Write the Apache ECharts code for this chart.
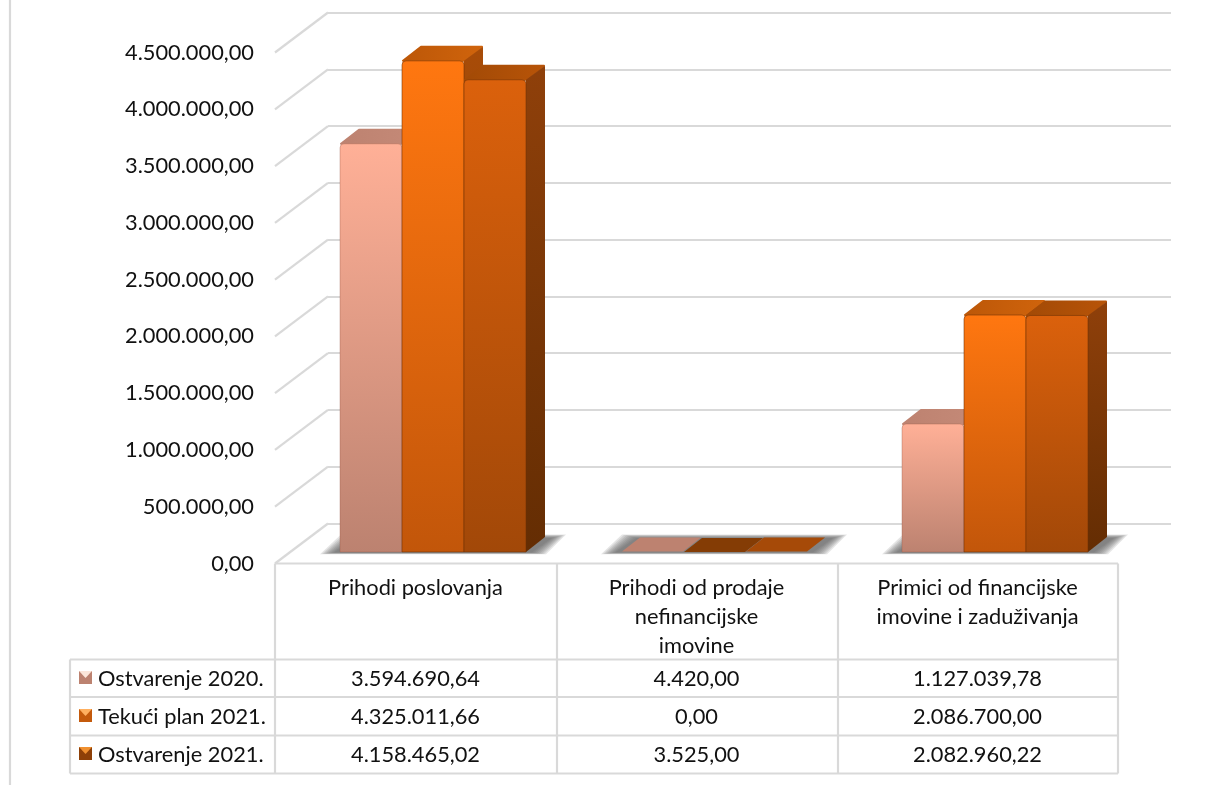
<!DOCTYPE html>
<html><head><meta charset="utf-8">
<style>html,body{margin:0;padding:0;background:#fff}#c{width:1209px;height:785px}</style>
<script src="https://cdn.jsdelivr.net/npm/echarts@6/dist/echarts.min.js"></script>
</head><body><div id="c"></div>
<script>
const categories = ['Prihodi poslovanja', 'Prihodi od prodaje\nnefinancijske\nimovine', 'Primici od financijske\nimovine i zaduživanja'];
const seriesNames = ['Ostvarenje 2020.', 'Tekući plan 2021.', 'Ostvarenje 2021.'];
const ostvarenje2020 = [3594690.64, 4420.00, 1127039.78];
const tekuciPlan2021 = [4325011.66, 0.00, 2086700.00];
const ostvarenje2021 = [4158465.02, 3525.00, 2082960.22];
const tickValues = [0, 500000, 1000000, 1500000, 2000000, 2500000, 3000000, 3500000, 4000000, 4500000];

const FONT = 'Lato';
const FS = 21.8;
const GRID = '#D9D9D9';
const TXT = '#111111';
const fmt = v => { const [a, b] = v.toFixed(2).split('.'); return a.replace(/\B(?=(\d{3})+(?!\d))/g, '.') + ',' + b; };
const lg = (a, b) => ({ type: 'linear', x: 0, y: 0, x2: 0, y2: 1, colorStops: [{ offset: 0, color: a }, { offset: 1, color: b }] });
const lgH = (a, b) => ({ type: 'linear', x: 0, y: 0, x2: 1, y2: 0, colorStops: [{ offset: 0, color: a }, { offset: 1, color: b }] });

const looks = [
  { front: ['#FFB097', '#BC8270'], side: ['#BD8270', '#8a5a4a'], top: ['#BD8270', '#C58A78'], flat: '#BD8270', edge: 'rgba(150,90,70,0.35)', key: ['#FBE6DA', '#BC8270'] },
  { front: ['#FF7710', '#C2560A'], side: ['#A84C08', '#843C05'], top: ['#BC5708', '#D0640C'], flat: '#843C05', edge: 'rgba(110,50,5,0.55)', key: ['#FFB060', '#C45A0C'] },
  { front: ['#DB610C', '#A24808'], side: ['#8F400A', '#642D03'], top: ['#A24A06', '#B85408'], flat: '#A64A08', edge: 'rgba(110,50,5,0.55)', key: ['#F09030', '#8E4008'] }
];
const BAR_RATIO = 62 / 281, SHIFT_X = 17.5, SHIFT_Y = -11.5, DX = 19, DY = -15;

function barRender(idx) {
  return function (params, api) {
    const c = api.value(0), v = api.value(1);
    const p0 = api.coord([c, 0]), p1 = api.coord([c, v]);
    const w = api.size([1, 0])[0] * BAR_RATIO;
    const xL = p0[0] + SHIFT_X + (idx - 1.5) * w, xR = xL + w;
    const yB = p0[1] + SHIFT_Y, yT = p1[1] + SHIFT_Y;
    const L = looks[idx], kids = [];
    const flat = yB - yT < 2;
    const topFill = flat ? L.flat : lgH(L.top[0], L.top[1]);
    kids.push({ type: 'polygon', shape: { points: [[xL + 1, yT], [xL + DX, yT + DY + 1], [xR + DX - 1, yT + DY + 1], [xR, yT]] },
      style: flat ? { fill: topFill } : { fill: topFill, stroke: topFill, lineWidth: 2, lineJoin: 'round' } });
    if (!flat) {
      kids.push({ type: 'polygon', shape: { points: [[xR, yT], [xR + DX, yT + DY + 1], [xR + DX, yB + DY], [xR, yB]] },
        style: { fill: lg(L.side[0], L.side[1]) } });
      kids.push({ type: 'rect', shape: { x: xL, y: yT, width: w, height: yB - yT, r: [4, 4, 0, 0] },
        style: { fill: lg(L.front[0], L.front[1]), stroke: L.edge, lineWidth: 1 } });
    }
    return { type: 'group', children: kids };
  };
}

const shadowRender = (params, api) => {
  const p = api.coord([api.value(0), 0]);
  const w = api.size([1, 0])[0] * BAR_RATIO;
  const xL = p[0] + SHIFT_X - 1.5 * w, xR = xL + 3 * w, yB = p[1] + SHIFT_Y;
  const kids = [];
  for (let e = 7; e >= 0; e--) {
    kids.push({ type: 'polygon', shape: { points: [
      [xL - 6 - 2 * e, yB + 0.5 + e * 0.25], [xL + 15 - 2 * e, yB - 14 - e * 0.5],
      [xR + 26 + 2 * e, yB - 14 - e * 0.5], [xR + 6 + 2 * e, yB + 0.5 + e * 0.25]] },
      style: { fill: 'rgba(95,95,95,0.16)' } });
  }
  return { type: 'group', children: kids };
};

const diagRender = (params, api) => {
  const p = api.coord([0, api.value(0)]);
  const x0 = api.coord([0, 0])[0] - api.size([1, 0])[0] / 2;
  return { type: 'line', shape: { x1: x0, y1: p[1], x2: x0 + 53, y2: p[1] - 40 }, style: { stroke: GRID, lineWidth: 2.2 } };
};

const rowY = [679, 717, 755];
const allRows = [ostvarenje2020, tekuciPlan2021, ostvarenje2021];
const tableData = [];
allRows.forEach((r, ri) => r.forEach((v, ci) => tableData.push([ci, v, ri])));
const tableRender = (params, api) => {
  const x = api.coord([api.value(0), 0])[0];
  return { type: 'text', style: { x, y: rowY[api.value(2)], text: fmt(api.value(1)), font: FS + 'px ' + FONT, fill: TXT, align: 'center', verticalAlign: 'middle' } };
};

const lines = [
  [[275, 563.5], [1118, 563.5]], [[70, 659.5], [1118, 659.5]], [[70, 697], [1118, 697]], [[70, 735.5], [1118, 735.5]], [[70, 773.5], [1118, 773.5]],
  [[275, 563.5], [275, 773.5]], [[557, 563.5], [557, 773.5]], [[838, 563.5], [838, 773.5]], [[1118, 563.5], [1118, 773.5]], [[70, 659.5], [70, 773.5]],
  [[10, 0], [10, 785]]
];
const graphics = lines.map(l => ({ type: 'line', silent: true, z: 1, shape: { x1: l[0][0], y1: l[0][1], x2: l[1][0], y2: l[1][1] }, style: { stroke: GRID, lineWidth: 2.2 } }));
seriesNames.forEach((n, i) => {
  const y = rowY[i] - 1;
  graphics.push({ type: 'rect', shape: { x: 79, y: y - 7, width: 13, height: 13 }, style: { fill: looks[i].key[1] } });
  graphics.push({ type: 'polygon', shape: { points: [[79, y - 7], [92, y - 7], [85.5, y]] }, style: { fill: looks[i].key[0] } });
  graphics.push({ type: 'text', style: { x: 98, y: rowY[i], text: n, font: FS + 'px ' + FONT, fill: TXT, verticalAlign: 'middle' } });
});

const chart = echarts.init(document.getElementById('c'));
chart.setOption({
  animation: false,
  backgroundColor: '#fff',
  grid: [
    { left: 275, right: 91, top: 52.5, bottom: 221.5 },
    { left: 328, right: 38, top: 12.5, bottom: 261.5 }
  ],
  xAxis: [
    { type: 'category', gridIndex: 0, data: categories, axisLine: { show: false }, axisTick: { show: false },
      axisLabel: { interval: 0, margin: 10, color: TXT, fontFamily: FONT, fontSize: FS, lineHeight: 29, verticalAlign: 'top' } },
    { type: 'category', gridIndex: 1, data: categories, show: false }
  ],
  yAxis: [
    { type: 'value', gridIndex: 0, min: 0, max: 4500000, interval: 500000, axisLine: { show: false }, axisTick: { show: false }, splitLine: { show: false },
      axisLabel: { margin: 21, padding: [7, 0, 0, 0], color: TXT, fontFamily: FONT, fontSize: FS, formatter: v => fmt(v) } },
    { type: 'value', gridIndex: 1, min: 0, max: 4500000, interval: 500000, axisLine: { show: false }, axisTick: { show: false }, axisLabel: { show: false },
      splitLine: { show: true, lineStyle: { color: GRID, width: 2.2 } } }
  ],
  series: [
    { type: 'custom', name: 'diagonals', data: tickValues.map(v => [v]), renderItem: diagRender, encode: { y: 0 }, silent: true, z: 1 },
    { type: 'custom', name: 'shadow', data: categories.map((c, i) => [i, 0]), renderItem: shadowRender, encode: { x: 0, y: 1 }, silent: true, z: 2 },
    ...allRows.map((r, i) => ({ type: 'custom', name: seriesNames[i], data: r.map((v, ci) => [ci, v]), renderItem: barRender(i), encode: { x: 0, y: 1 }, z: 3 + i })),
    { type: 'custom', name: 'table', data: tableData, renderItem: tableRender, encode: { x: 0, y: 1 }, silent: true, z: 8 }
  ],
  graphic: graphics
});
</script></body></html>
